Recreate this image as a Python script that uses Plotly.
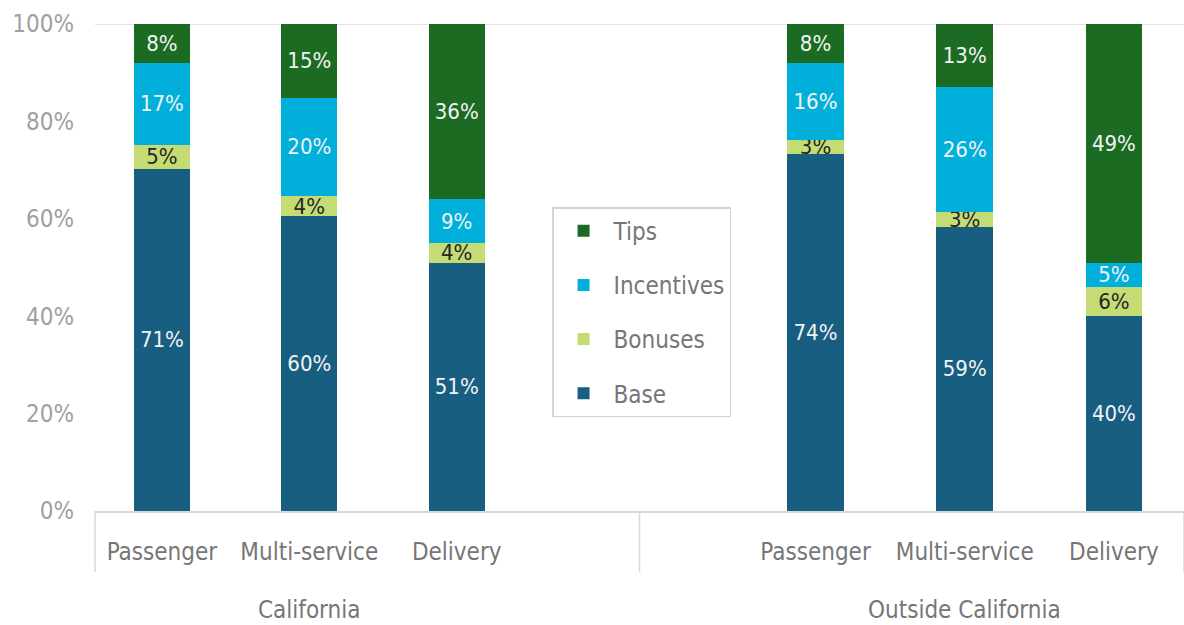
import plotly.graph_objects as go
from plotly.subplots import make_subplots

# ---- data ----
categories = ["Passenger", "Multi-service", "Delivery"]
groups = ["California", "Outside California"]
series_names = ["Base", "Bonuses", "Incentives", "Tips"]

base_ca = [71, 60, 51]
bonuses_ca = [5, 4, 4]
incentives_ca = [17, 20, 9]
tips_ca = [8, 15, 36]

base_out = [74, 59, 40]
bonuses_out = [3, 3, 6]
incentives_out = [16, 26, 5]
tips_out = [8, 13, 49]

y_ticks = [0, 20, 40, 60, 80, 100]
y_tick_labels = ["0%", "20%", "40%", "60%", "80%", "100%"]

colors = {
    "Base": "#175e81",
    "Bonuses": "#c5dc74",
    "Incentives": "#00b0db",
    "Tips": "#1b6b23",
}
text_colors = {
    "Base": "#f2f2f2",
    "Bonuses": "#262626",
    "Incentives": "#f2f2f2",
    "Tips": "#f2f2f2",
}
legend_rank = {"Tips": 1, "Incentives": 2, "Bonuses": 3, "Base": 4}

FONT = "DejaVu Sans Condensed, Liberation Sans Narrow, sans-serif"
LBL = 24

data_by_group = [
    {"Base": base_ca, "Bonuses": bonuses_ca, "Incentives": incentives_ca, "Tips": tips_ca},
    {"Base": base_out, "Bonuses": bonuses_out, "Incentives": incentives_out, "Tips": tips_out},
]

fig = make_subplots(rows=1, cols=2, shared_yaxes=True, horizontal_spacing=0)

for gi, gdata in enumerate(data_by_group):
    for name in series_names:
        vals = gdata[name]
        fig.add_trace(
            go.Bar(
                x=categories,
                y=vals,
                name=name,
                legendgroup=name,
                legendrank=legend_rank[name],
                showlegend=(gi == 0),
                marker=dict(color=colors[name], line=dict(width=0)),
                text=[f"{v}%" for v in vals],
                textposition="inside",
                insidetextanchor="middle",
                textangle=0,
                constraintext="none",
                textfont=dict(family=FONT, size=22, color=text_colors[name]),
                width=0.38,
                hoverinfo="skip",
            ),
            row=1,
            col=gi + 1,
        )

fig.update_layout(
    barmode="stack",
    barnorm="percent",
    width=1184,
    height=625,
    margin=dict(l=95, r=0, t=24, b=114, autoexpand=False),
    paper_bgcolor="white",
    plot_bgcolor="white",
    font=dict(family=FONT, size=LBL, color="#767676"),
    uniformtext=dict(minsize=22, mode="show"),
    legend=dict(
        x=0.4197,
        y=0.624,
        xanchor="left",
        yanchor="top",
        tracegroupgap=20,
        itemwidth=50,
        bgcolor="white",
        bordercolor="#d4d4d4",
        borderwidth=1.5,
        font=dict(family=FONT, size=LBL, color="#767676"),
    ),
)

fig.update_xaxes(
    type="category",
    automargin=False,
    showgrid=False,
    showline=True,
    linecolor="#d9d9d9",
    linewidth=1.5,
    ticks="",
    ticklabelstandoff=18,
    tickfont=dict(family=FONT, size=LBL, color="#767676"),
    fixedrange=True,
)
fig.update_xaxes(domain=[0, 0.5], range=[-0.454, 3.24], row=1, col=1)
fig.update_xaxes(domain=[0.5, 1], range=[-1.18, 2.47], row=1, col=2)

fig.update_yaxes(
    range=[0, 100],
    automargin=False,
    tickvals=y_ticks,
    ticktext=y_tick_labels,
    showgrid=False,
    zeroline=False,
    showline=False,
    ticks="",
    ticklabelstandoff=20,
    tickfont=dict(family=FONT, size=LBL, color="#a0a0a0"),
    fixedrange=True,
)

# top reference line at 100%
fig.add_shape(type="line", xref="paper", yref="y", x0=0, x1=1, y0=100, y1=100,
              line=dict(color="#d9d9d9", width=1.5), layer="below")

# group dividers
for xd in [0, 0.5, 1]:
    fig.add_shape(type="line", xref="paper", yref="paper", x0=xd, x1=xd, y0=0, y1=-0.125,
                  line=dict(color="#d9d9d9", width=1.5))

# group labels centred on the middle category of each group
for gi, g in enumerate(groups):
    fig.add_annotation(
        text=g,
        xref="x" if gi == 0 else "x2",
        x=categories[1],
        yref="paper",
        y=-0.203,
        xanchor="center",
        yanchor="middle",
        showarrow=False,
        font=dict(family=FONT, size=LBL, color="#767676"),
    )

fig.write_html(
    "out.html",
    config={"displayModeBar": False},
    post_script="document.body.style.margin='0px';document.body.style.padding='0px';",
)
